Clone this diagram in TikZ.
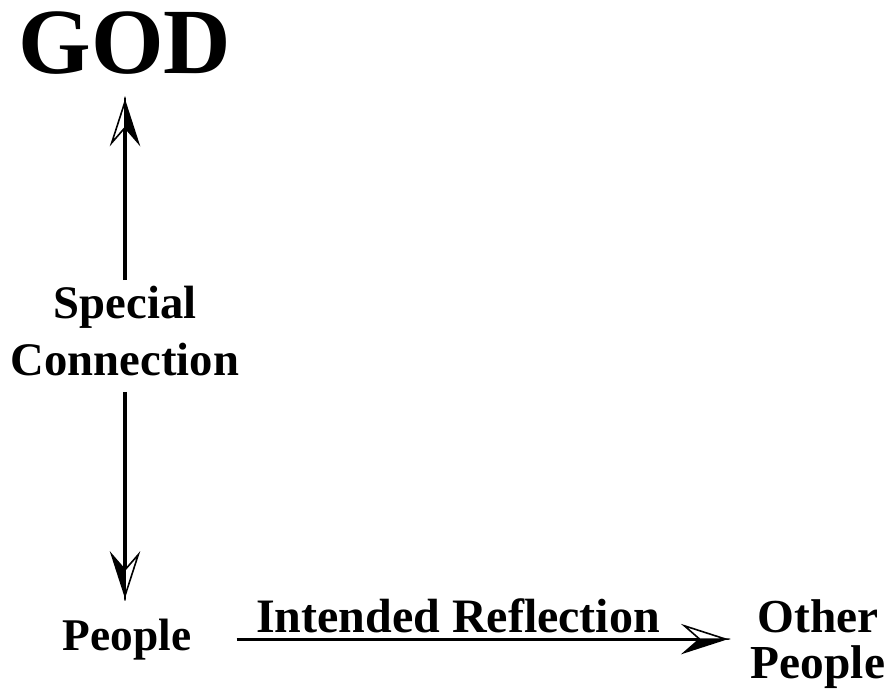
\documentclass[tikz,border=0pt]{standalone}
\usepackage{fontspec}
\setmainfont{Liberation Serif}
\usepackage{tikz}
\usetikzlibrary{arrows.meta, positioning}

% half filled stealth head
\pgfdeclarearrow{
  name = HalfStealth,
  setup code = {
    \pgfarrowssettipend{0pt}
    \pgfarrowssetlineend{-19pt}
    \pgfarrowssetbackend{-31pt}
    \pgfarrowshullpoint{0pt}{0pt}
    \pgfarrowshullpoint{-31pt}{10pt}
    \pgfarrowshullpoint{-31pt}{-10pt}
  },
  drawing code = {
    \pgfsetlinewidth{1.2pt}
    \pgfsetmiterjoin
    \pgfsetstrokecolor{black}
    \pgfpathmoveto{\pgfpoint{0pt}{0pt}}
    \pgfpathlineto{\pgfpoint{-31pt}{-10pt}}
    \pgfpathlineto{\pgfpoint{-19.5pt}{0pt}}
    \pgfpathclose
    \pgfsetfillcolor{black}
    \pgfusepathqfillstroke
    \pgfpathmoveto{\pgfpoint{0pt}{0pt}}
    \pgfpathlineto{\pgfpoint{-31pt}{10pt}}
    \pgfpathlineto{\pgfpoint{-19.5pt}{0pt}}
    \pgfpathclose
    \pgfsetfillcolor{white}
    \pgfusepathqfillstroke
  }
}

\begin{document}
\begin{tikzpicture}[
    x=0.75pt, y=-0.75pt,
    every node/.style={inner sep=0pt, outer sep=0pt},
    word/.style={font=\bfseries\fontsize{#1}{#1}\selectfont},
    link/.style={line width=2.4pt, -HalfStealth}
]
\useasboundingbox (0,0) rectangle (887,691);

% Labels
\node[word=70, anchor=base] (god) at (125,74) {GOD};
\node[font=\bfseries\fontsize{35}{42.75}\selectfont, align=center] (special) at (125,331) {Special\\Connection};
\node[word=34, anchor=base] (people) at (127,650) {People};
\node[font=\bfseries\fontsize{35.5}{34.5}\selectfont, align=center] (others) at (818,644) {Other\\People};
\node[word=36, anchor=base] (reflection) at (458,632) {Intended Reflection};

% Connections
\draw[link, shorten <=4.5pt, shorten >=20pt] (special.north) -- (god.south);
\draw[link, shorten <=12pt, shorten >=17pt] (special.south) -- (special.south |- people.north);
\draw[link, shorten <=34pt, shorten >=19pt] (people.east) -- (people.east -| others.west);

\end{tikzpicture}
\end{document}
